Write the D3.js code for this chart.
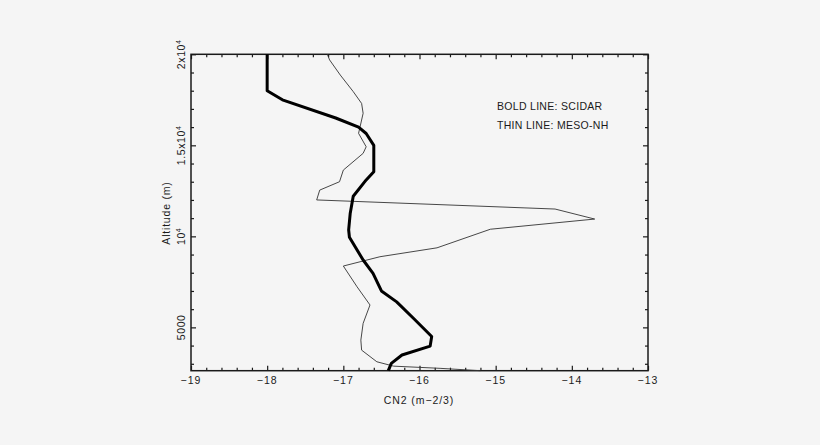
<!DOCTYPE html>
<html>
<head>
<meta charset="utf-8">
<script src="https://cdn.jsdelivr.net/npm/d3@7"></script>
<style>
  body { margin: 0; background: #f5f5f5; }
  svg { display: block; }
  text { font-family: "Liberation Sans", Arial, sans-serif; fill: #1a1a1a; }
</style>
</head>
<body>
<svg id="chart" width="820" height="445"></svg>
<script>
// SCIDAR profile (bold) : CN2 log value, altitude (m)
const scidarCn2 = [-18.0, -18.0, -17.8, -17.1, -16.8, -16.7, -16.6, -16.6, -16.7, -16.87, -16.91, -16.93, -16.92,
  -16.74, -16.61, -16.5, -16.3, -16.08, -15.84, -15.86, -16.23, -16.37, -16.41];
const scidarAlt = [20000, 18000, 17500, 16500, 16000, 15650, 15000, 13550, 13100, 12200, 11250, 10350, 9950,
  8700, 7970, 7000, 6400, 5500, 4500, 3970, 3480, 3020, 2620];

// MESO-NH profile (thin)
const mesoCn2 = [-17.21, -17.18, -17.04, -16.87, -16.76, -16.74, -16.78, -16.8, -16.7, -16.74, -17.0, -17.05,
  -17.31, -17.35, -14.22, -13.7, -15.07, -15.77, -16.52, -17.0, -16.82, -16.65, -16.74, -16.77, -16.76,
  -16.56, -16.34, -15.73, -15.2];
const mesoAlt = [20000, 19690, 18860, 17950, 17300, 16760, 16020, 15660, 14920, 14560, 13640, 13000,
  12540, 12000, 11500, 10950, 10390, 9370, 8880, 8370, 7230, 6230, 5220, 4300, 3750,
  3110, 2870, 2750, 2620];

const xMajor = [-19, -18, -17, -16, -15, -14, -13];
const xMajorLabels = ["\u221219", "\u221218", "\u221217", "\u221216", "\u221215", "\u221214", "\u221213"];
const yMajor = [5000, 10000, 15000, 20000];
const yMajorLabels = [["5000", ""], ["10", "4"], ["1.5x10", "4"], ["2x10", "4"]];
const legendLines = ["BOLD LINE: SCIDAR", "THIN LINE: MESO-NH"];

const svg = d3.select("#chart");
const plotLeft = 191, plotRight = 648, plotTop = 54.3, plotBottom = 370.7;

const x = d3.scaleLinear().domain([-19, -13]).range([plotLeft, plotRight]);
const y = d3.scaleLinear().domain([2620, 20000]).range([plotBottom, plotTop]);

// minor ticks
const xMinor = d3.range(-19, -12.99, 0.2).filter(v => Math.abs(v - Math.round(v)) > 0.01);
const yMinor = d3.range(3000, 20000, 1000).filter(v => v % 5000 !== 0);

const axisColor = "#1a1a1a";

function styleAxis(g) {
  g.select(".domain").remove();
  g.selectAll("line").attr("stroke", axisColor).attr("stroke-width", 1.2);
  g.selectAll("text").remove();
}

// bottom / top axes (ticks pointing inward)
svg.append("g").attr("transform", `translate(0,${plotBottom})`)
  .call(d3.axisBottom(x).tickValues(xMajor).tickSize(-5)).call(styleAxis);
svg.append("g").attr("transform", `translate(0,${plotBottom})`)
  .call(d3.axisBottom(x).tickValues(xMinor).tickSize(-3)).call(styleAxis);
svg.append("g").attr("transform", `translate(0,${plotTop})`)
  .call(d3.axisTop(x).tickValues(xMajor).tickSize(-5)).call(styleAxis);
svg.append("g").attr("transform", `translate(0,${plotTop})`)
  .call(d3.axisTop(x).tickValues(xMinor).tickSize(-3)).call(styleAxis);

// left / right axes
svg.append("g").attr("transform", `translate(${plotLeft},0)`)
  .call(d3.axisLeft(y).tickValues(yMajor).tickSize(-5)).call(styleAxis);
svg.append("g").attr("transform", `translate(${plotLeft},0)`)
  .call(d3.axisLeft(y).tickValues(yMinor).tickSize(-3)).call(styleAxis);
svg.append("g").attr("transform", `translate(${plotRight},0)`)
  .call(d3.axisRight(y).tickValues(yMajor).tickSize(-5)).call(styleAxis);
svg.append("g").attr("transform", `translate(${plotRight},0)`)
  .call(d3.axisRight(y).tickValues(yMinor).tickSize(-3)).call(styleAxis);

// frame
svg.append("rect")
  .attr("x", plotLeft).attr("y", plotTop)
  .attr("width", plotRight - plotLeft).attr("height", plotBottom - plotTop)
  .attr("fill", "none").attr("stroke", axisColor).attr("stroke-width", 1.5);

// x tick labels
svg.append("g").selectAll("text")
  .data(xMajor)
  .join("text")
  .attr("x", d => x(d))
  .attr("y", 384)
  .attr("text-anchor", "middle")
  .attr("font-size", 10.5)
  .attr("letter-spacing", 1)
  .text((d, i) => xMajorLabels[i]);

// y tick labels (rotated)
const yl = svg.append("g").selectAll("text")
  .data(yMajor)
  .join("text")
  .attr("transform", d => `translate(185,${y(d)}) rotate(-90)`)
  .attr("text-anchor", "middle")
  .attr("font-size", 10.5)
  .attr("letter-spacing", 0.6);
yl.append("tspan").text((d, i) => yMajorLabels[i][0]);
yl.append("tspan")
  .attr("dy", -4)
  .attr("font-size", 7)
  .text((d, i) => yMajorLabels[i][1]);

// axis titles
svg.append("text")
  .attr("x", 419).attr("y", 404)
  .attr("text-anchor", "middle")
  .attr("font-size", 10.5)
  .attr("letter-spacing", 0.9)
  .text("CN2 (m\u22122/3)");

svg.append("text")
  .attr("transform", "translate(170,213) rotate(-90)")
  .attr("text-anchor", "middle")
  .attr("font-size", 10.5)
  .attr("letter-spacing", 0.8)
  .text("Altitude (m)");

// legend text
svg.append("g").selectAll("text")
  .data(legendLines)
  .join("text")
  .attr("x", 497)
  .attr("y", (d, i) => 110 + i * 18.5)
  .attr("font-size", 10.5)
  .attr("letter-spacing", 0.3)
  .text(d => d);

// profiles
const line = d3.line()
  .x(d => x(d[0]))
  .y(d => y(d[1]));

svg.append("path")
  .datum(mesoCn2.map((v, i) => [v, mesoAlt[i]]))
  .attr("d", line)
  .attr("fill", "none")
  .attr("stroke", "#333")
  .attr("stroke-width", 0.9);

svg.append("path")
  .datum(scidarCn2.map((v, i) => [v, scidarAlt[i]]))
  .attr("d", line)
  .attr("fill", "none")
  .attr("stroke", "#000")
  .attr("stroke-width", 3)
  .attr("stroke-linejoin", "round");
</script>
</body>
</html>
